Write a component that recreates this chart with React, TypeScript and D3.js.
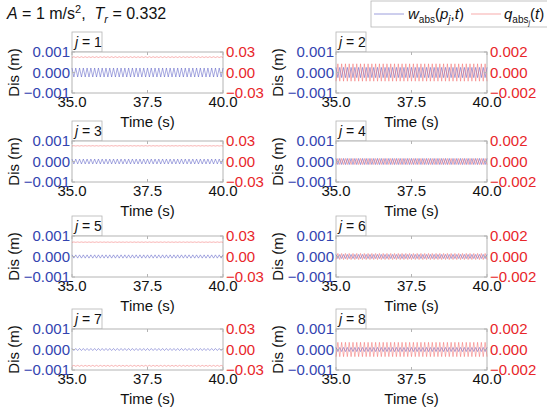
import * as d3 from "d3";

const FONT = "'Liberation Sans', Arial, sans-serif";
const BLUE_TXT = "#3344b0";
const RED_TXT = "#e8262a";
const BLUE_LINE = "#4a4fc0";
const RED_LINE = "#f04848";
const FRAME = "#b4b4b4";

// per-panel values (j = 1..8)
const panelIds = [1, 2, 3, 4, 5, 6, 7, 8];
const blueAmp = [0.00022, 0.00025, 0.00012, 0.00015, 0.00008, 0.0001, 0.00005, 0.0001];
const redMean = [0.0225, 0, 0.0229, 0, 0.021, 0, -0.0239, 0];
const redAmp = [0.0006, 0.00085, 0.0003, 0.0003, 0.0003, 0.0003, 0.0007, 0.0007];
const cyclesIn5s = 40;

const blueTicks = [-0.001, 0, 0.001];
const redTicksOdd = [-0.03, 0, 0.03];
const redTicksEven = [-0.002, 0, 0.002];
const timeTicks = [35, 37.5, 40];

const colLeft = [72, 336];
const rowTop = [52, 141, 236, 329];
const PW = 151;
const PH = 41;

const fmt = (v: number, d: number) => d3.format(`.${d}f`)(v).replace("-", "\u2212");

function zigzag(mean: number, amp: number, flip: boolean) {
  return d3.range(0, cyclesIn5s * 2 + 1).map((k) => ({
    t: 35 + (k * 5) / (cyclesIn5s * 2),
    v: mean + ((k % 2 === 0) !== flip ? amp : -amp),
  }));
}

function Panel({ idx }: { idx: number }) {
  const j = panelIds[idx];
  const odd = j % 2 === 1;
  const x0 = colLeft[odd ? 0 : 1];
  const y0 = rowTop[Math.floor(idx / 2)];
  const x = d3.scaleLinear().domain([35, 40]).range([0, PW]);
  const yB = d3.scaleLinear().domain([-0.001, 0.001]).range([PH, 0]);
  const redTicks = odd ? redTicksOdd : redTicksEven;
  const yR = d3.scaleLinear().domain([redTicks[0], redTicks[2]]).range([PH, 0]);
  const lineB = d3.line<{ t: number; v: number }>().x((d) => x(d.t)).y((d) => yB(d.v));
  const lineR = d3.line<{ t: number; v: number }>().x((d) => x(d.t)).y((d) => yR(d.v));
  const blue = zigzag(0, blueAmp[idx], false);
  const red = zigzag(redMean[idx], redAmp[idx], true);
  const rd = odd ? 2 : 3;
  return (
    <g transform={`translate(${x0},${y0})`} fontFamily={FONT}>
      <rect x={0} y={-20} width={30} height={20} fill="#fff" stroke={FRAME} strokeWidth={0.8} />
      <text x={3} y={-5} fontSize={14} fill="#111">
        <tspan fontStyle="italic">j</tspan> = {j}
      </text>
      <rect x={0} y={0} width={PW} height={PH} fill="#fff" stroke={FRAME} strokeWidth={1} />
      <path d={lineB(blue) || ""} fill="none" stroke={BLUE_LINE} strokeWidth={0.8} opacity={0.6} />
      <path d={lineR(red) || ""} fill="none" stroke={RED_LINE} strokeWidth={0.8} opacity={0.5} />
      {timeTicks.map((t) => (
        <g key={t}>
          <line x1={x(t)} x2={x(t)} y1={PH} y2={PH - 3} stroke={FRAME} />
          <line x1={x(t)} x2={x(t)} y1={0} y2={3} stroke={FRAME} />
          <text x={x(t)} y={PH + 14} fontSize={15} textAnchor="middle" fill="#111">
            {t.toFixed(1)}
          </text>
        </g>
      ))}
      {blueTicks.map((v) => (
        <g key={v}>
          <line x1={0} x2={3} y1={yB(v)} y2={yB(v)} stroke={FRAME} />
          <text x={-2} y={yB(v) + 5} fontSize={15} textAnchor="end" fill={BLUE_TXT}>
            {fmt(v, 3)}
          </text>
        </g>
      ))}
      {redTicks.map((v) => (
        <g key={v}>
          <line x1={PW} x2={PW - 3} y1={yR(v)} y2={yR(v)} stroke={FRAME} />
          <text x={PW + 3} y={yR(v) + 5} fontSize={15} textAnchor="start" fill={RED_TXT}>
            {fmt(v, rd)}
          </text>
        </g>
      ))}
      <text x={PW / 2} y={PH + 34} fontSize={15} textAnchor="middle" fill="#111">
        Time (s)
      </text>
      <text
        transform={`translate(${-53},${PH / 2}) rotate(-90)`}
        fontSize={15}
        textAnchor="middle"
        fill="#111"
      >
        Dis (m)
      </text>
    </g>
  );
}

export default function App() {
  return (
    <svg width={547} height={413} style={{ position: "absolute", left: 0, top: 0, background: "#fff" }}>
      <text x={7} y={19} fontSize={16} fontFamily={FONT} fill="#111">
        <tspan fontStyle="italic">A</tspan> = 1 m/s<tspan dy={-6} fontSize={11}>2</tspan>
        <tspan dy={6}>,{"\u00a0\u00a0"}</tspan>
        <tspan fontStyle="italic">T</tspan>
        <tspan fontStyle="italic" fontSize={11} dy={4}>r</tspan>
        <tspan dy={-4}> = 0.332</tspan>
      </text>
      <g fontFamily={FONT}>
        <rect x={371} y={1} width={190} height={26} fill="#fff" stroke={FRAME} strokeWidth={0.8} />
        <line x1={374} x2={404} y1={14} y2={14} stroke={BLUE_LINE} strokeWidth={0.9} opacity={0.6} />
        <text x={408} y={19} fontSize={15} fill="#111">
          <tspan fontStyle="italic">w</tspan>
          <tspan fontSize={10} dy={4}>abs</tspan>
          <tspan dy={-4}>(</tspan>
          <tspan fontStyle="italic">p</tspan>
          <tspan fontStyle="italic" fontSize={10} dy={4}>j</tspan>
          <tspan dy={-4}>,</tspan>
          <tspan fontStyle="italic">t</tspan>)
        </text>
        <line x1={471} x2={501} y1={14} y2={14} stroke={RED_LINE} strokeWidth={0.9} opacity={0.5} />
        <text x={504} y={19} fontSize={15} fill="#111">
          <tspan fontStyle="italic">q</tspan>
          <tspan fontSize={10} dy={4}>abs</tspan>
          <tspan fontSize={7} fontStyle="italic" dy={2}>j</tspan>
          <tspan dy={-6}>(</tspan>
          <tspan fontStyle="italic">t</tspan>)
        </text>
      </g>
      {panelIds.map((_, i) => (
        <Panel key={i} idx={i} />
      ))}
    </svg>
  );
}
